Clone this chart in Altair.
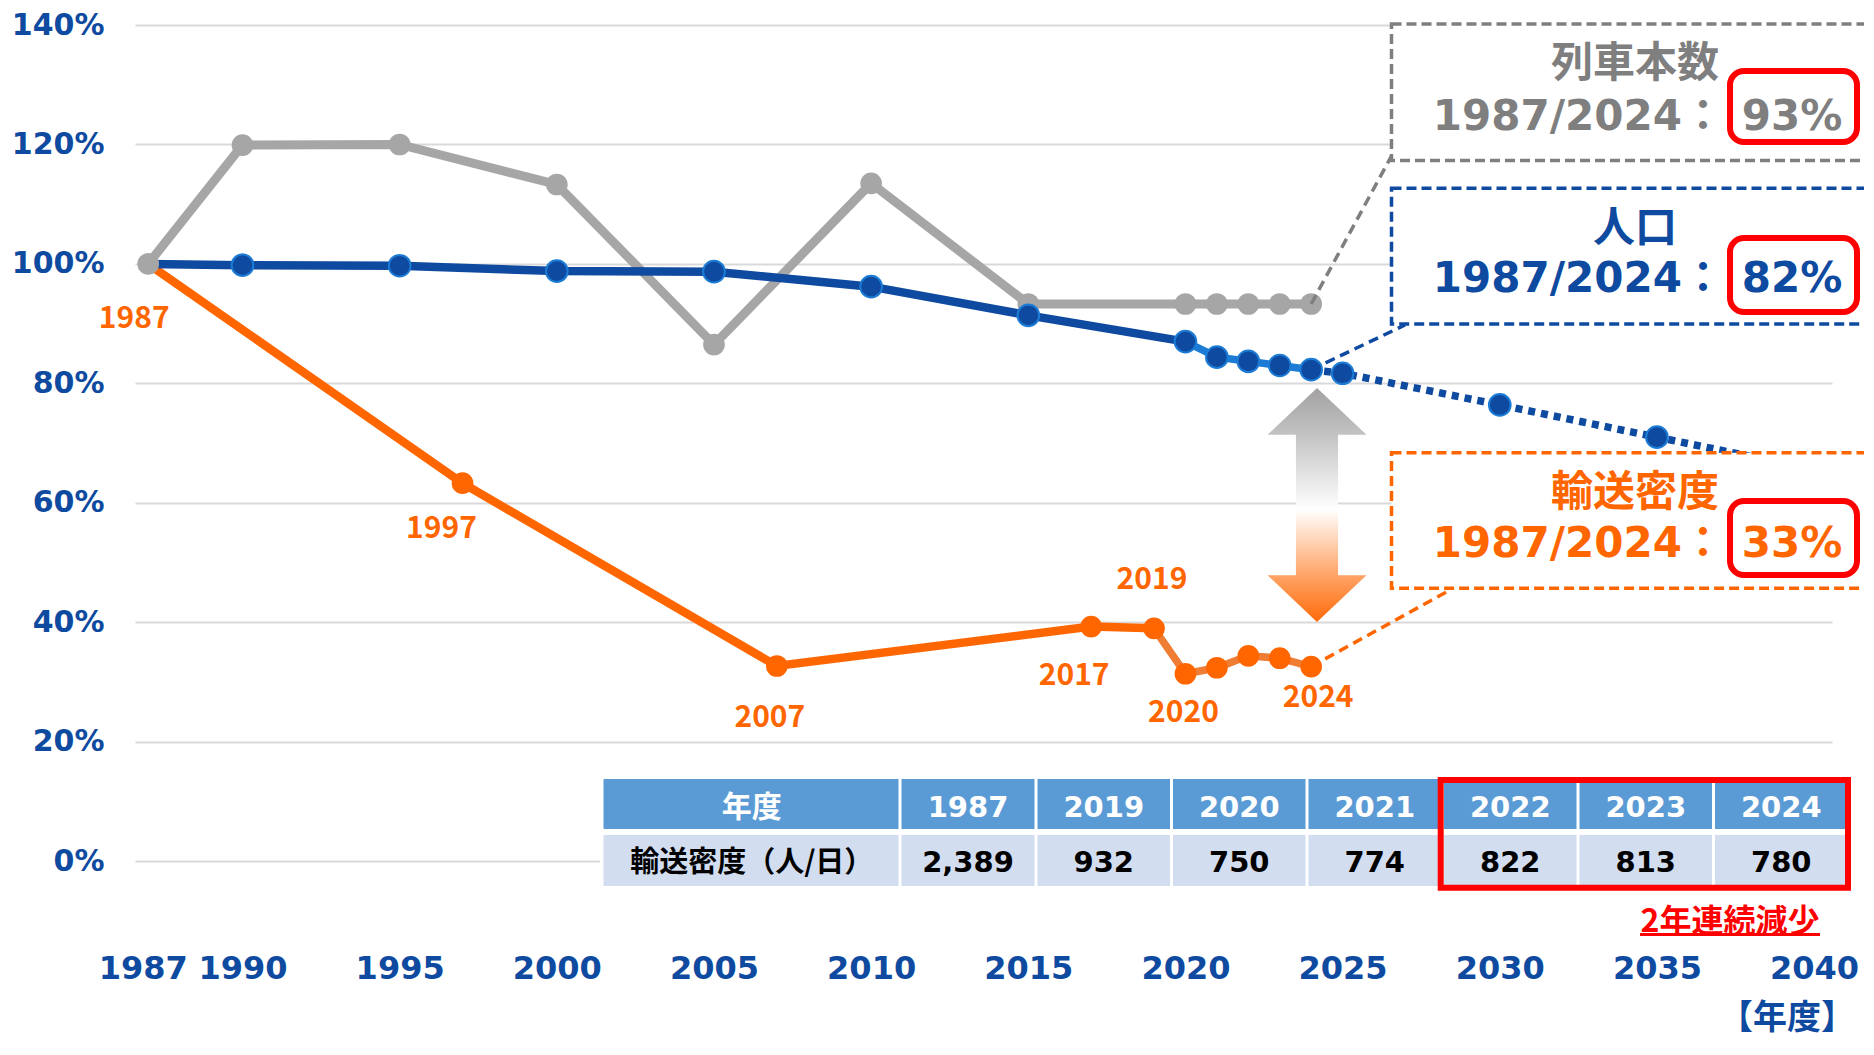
import altair as alt
import pandas as pd

# ---------------- data ----------------
train_years = [1987, 1990, 1995, 2000, 2005, 2010, 2015, 2020, 2021, 2022, 2023, 2024]
train_pct = [100.0, 119.9, 120.0, 113.3, 86.5, 113.5, 93.3, 93.3, 93.3, 93.3, 93.3, 93.3]

pop_years = [1987, 1990, 1995, 2000, 2005, 2010, 2015, 2020, 2021, 2022, 2023, 2024]
pop_pct = [100.0, 99.8, 99.7, 98.8, 98.7, 96.2, 91.4, 87.0, 84.4, 83.7, 83.0, 82.3]
proj_years = [2024, 2025, 2030, 2035, 2040]
proj_pct = [82.3, 81.7, 76.4, 71.0, 65.6]

dens_years = [1987, 1997, 2007, 2017, 2019, 2020, 2021, 2022, 2023, 2024]
dens_pct = [100.0, 63.3, 32.7, 39.3, 39.0, 31.4, 32.4, 34.4, 34.0, 32.6]
dens_label_years = [1987, 1997, 2007, 2017, 2019, 2020, 2024]

x_ticks = [1987, 1990, 1995, 2000, 2005, 2010, 2015, 2020, 2025, 2030, 2035, 2040]
y_ticks = [0, 20, 40, 60, 80, 100, 120, 140]

table_head = ["年度", "1987", "2019", "2020", "2021", "2022", "2023", "2024"]
table_vals = ["輸送密度（人/日）", "2,389", "932", "750", "774", "822", "813", "780"]

box_titles = ["列車本数", "人口", "輸送密度"]
box_ratio_label = "1987/2024："
box_ratios = ["93%", "82%", "33%"]
table_note = "2年連続減少"
x_unit = "【年度】"

# ---------------- layout ----------------
W, H = 1697, 908
PAD = {"left": 127, "top": 17, "right": 32, "bottom": 109}
X_DOMAIN = [1986.58, 2040.57]
Y_DOMAIN = [-12, 140]
PLOT_LEFT = 8 + PAD["left"]
PLOT_TOP = 8 + PAD["top"]


def X(px):
    return X_DOMAIN[0] + (px - PLOT_LEFT) * (X_DOMAIN[1] - X_DOMAIN[0]) / W


def Y(py):
    return Y_DOMAIN[1] - (py - PLOT_TOP) * (Y_DOMAIN[1] - Y_DOMAIN[0]) / H


BLUE = "#0E4AA0"
LIGHT_BLUE = "#1C7CD5"
ORANGE = "#FF6600"
LIGHT_ORANGE = "#EF7D33"
GRAY = "#A6A6A6"
DARK_GRAY = "#7F7F7F"
RED = "#FF0000"
LATIN = "DejaVu Sans, Noto Sans CJK JP, sans-serif"
CJK = "Noto Sans CJK JP, sans-serif"
PT = 470  # marker area

xs = alt.Scale(domain=X_DOMAIN, nice=False, zero=False)
ys = alt.Scale(domain=Y_DOMAIN, nice=False, zero=False)

x_axis = alt.Axis(values=x_ticks, format="d", labelFont="DejaVu Sans", labelFontSize=32,
                  labelFontWeight="bold", labelColor=BLUE, domain=False, ticks=False,
                  tickSize=0, grid=False, labelPadding=20, labelFlush=15,
                  labelFlushOffset=50, labelOverlap=False, title=None)
y_axis = alt.Axis(values=y_ticks, labelExpr="datum.value + '%'", labelFont="DejaVu Sans",
                  labelFontSize=30, labelFontWeight="bold", labelColor=BLUE, domain=False,
                  ticks=False, tickSize=0, grid=True, gridColor="#D9D9D9", gridWidth=2,
                  labelPadding=31, title=None)


def XQ(f="x"):
    return alt.X(f"{f}:Q", scale=xs, axis=x_axis)


def YQ(f="y"):
    return alt.Y(f"{f}:Q", scale=ys, axis=y_axis)


train_df = pd.DataFrame({"x": train_years, "y": train_pct})
pop_df = pd.DataFrame({"x": pop_years, "y": pop_pct})
proj_df = pd.DataFrame({"x": proj_years, "y": proj_pct})
dens_df = pd.DataFrame({"x": dens_years, "y": dens_pct})

layers = []

# gray (train count)
layers.append(alt.Chart(train_df).mark_line(color=GRAY, strokeWidth=9).encode(x=XQ(), y=YQ()))
layers.append(alt.Chart(train_df[train_df.x > 1987]).mark_circle(
    color=GRAY, size=PT, opacity=1).encode(x=XQ(), y=YQ()))

# orange (transport density)
layers.append(alt.Chart(dens_df[dens_df.x <= 2019]).mark_line(
    color=ORANGE, strokeWidth=8.5).encode(x=XQ(), y=YQ()))
layers.append(alt.Chart(dens_df[dens_df.x >= 2019]).mark_line(
    color=LIGHT_ORANGE, strokeWidth=7.5).encode(x=XQ(), y=YQ()))
layers.append(alt.Chart(dens_df[dens_df.x > 1987]).mark_circle(
    color=ORANGE, size=PT, opacity=1).encode(x=XQ(), y=YQ()))

# blue (population)
layers.append(alt.Chart(proj_df).mark_line(
    color=BLUE, strokeWidth=7.5, strokeDash=[7, 6]).encode(x=XQ(), y=YQ()))
layers.append(alt.Chart(pop_df[pop_df.x <= 2020]).mark_line(
    color=BLUE, strokeWidth=8.5).encode(x=XQ(), y=YQ()))
layers.append(alt.Chart(pop_df[pop_df.x >= 2020]).mark_line(
    color=LIGHT_BLUE, strokeWidth=7.5).encode(x=XQ(), y=YQ()))
blue_pts = pd.concat([pop_df[pop_df.x > 1987], proj_df[(proj_df.x > 2024) & (proj_df.x < 2040)]])
layers.append(alt.Chart(blue_pts).mark_circle(
    color=BLUE, size=PT, opacity=1, stroke=LIGHT_BLUE, strokeWidth=2).encode(x=XQ(), y=YQ()))

# gray start point on top
layers.append(alt.Chart(train_df[train_df.x == 1987]).mark_circle(
    color=GRAY, size=PT, opacity=1).encode(x=XQ(), y=YQ()))

# orange year labels (offsets in px from their points)
label_offsets = {1987: (-14, 55), 1997: (-21, 46), 2007: (-7, 52), 2017: (-17, 49),
                 2019: (-2, -48), 2020: (-2, 39), 2024: (7, 31)}
for yr in dens_label_years:
    dx, dy = label_offsets[yr]
    d = dens_df[dens_df.x == yr].assign(t=str(yr))
    layers.append(alt.Chart(d).mark_text(
        font=CJK, fontSize=30, fontWeight="bold", color=ORANGE, dx=dx, dy=dy,
        align="center", baseline="middle").encode(x=XQ(), y=YQ(), text="t:N"))

# double arrow with gradient
ARROW = ("M0,-1L0.423,-0.6L0.18,-0.6L0.18,0.6L0.423,0.6L0,1L-0.423,0.6L-0.18,0.6"
         "L-0.18,-0.6L-0.423,-0.6Z")
grad = alt.LinearGradient(gradient="linear", x1=0, x2=0, y1=0, y2=1, stops=[
    alt.GradientStop(offset=0, color="#A3A1A1"),
    alt.GradientStop(offset=0.2, color="#C3C3C3"),
    alt.GradientStop(offset=0.52, color="#FFFFFF"),
    alt.GradientStop(offset=0.8, color="#FFA466"),
    alt.GradientStop(offset=1, color="#FF6A0A")])
arrow_df = pd.DataFrame({"x": [X(1317)], "y": [Y(505)]})
layers.append(alt.Chart(arrow_df).mark_point(
    shape=ARROW, size=234 * 234, filled=True, fill=grad, strokeWidth=0, opacity=1
).encode(x=XQ(), y=YQ()))

# connectors from the 2024 points to the boxes
conns = [
    (train_pct[-1], 1392, 155, DARK_GRAY),
    (pop_pct[-1], 1405, 325, BLUE),
    (dens_pct[-1], 1450, 590, ORANGE),
]
for v, ex, ey, col in conns:
    d = pd.DataFrame({"x": [2024], "y": [v], "x2": [X(ex)], "y2": [Y(ey)]})
    layers.append(alt.Chart(d).mark_rule(color=col, strokeWidth=3.5, strokeDash=[10, 6]).encode(
        x=XQ(), y=YQ(), x2="x2:Q", y2="y2:Q"))

# annotation boxes
box_rows = [  # (top px, bottom px, colour, title centre px, ratio centre px, red box px)
    (24, 160.5, DARK_GRAY, 60.8, 114.2, (71, 142)),
    (188.3, 324, BLUE, 225.8, 276.7, (238, 312)),
    (452.7, 588.3, ORANGE, 489.2, 541.7, (501, 575)),
]
for i, (top, bot, col, tc, rc, (rt, rbm)) in enumerate(box_rows):
    d = pd.DataFrame({"x": [X(1391.5)], "x2": [X(1910)], "y": [Y(top)], "y2": [Y(bot)]})
    layers.append(alt.Chart(d).mark_rect(fill="white", stroke=col, strokeWidth=3.5,
                                         strokeDash=[10, 5]).encode(
        x=XQ(), y=YQ(), x2="x2:Q", y2="y2:Q"))
    t = pd.DataFrame({"x": [X(1635)], "y": [Y(tc + 0.08 * 42)], "t": [box_titles[i]]})
    layers.append(alt.Chart(t).mark_text(font=CJK, fontSize=42, fontWeight="bold", color=col,
                                         align="center", baseline="middle").encode(
        x=XQ(), y=YQ(), text="t:N"))
    t2 = pd.DataFrame({"x": [X(1724)], "y": [Y(rc + 0.0645 * 42)], "t": [box_ratio_label]})
    layers.append(alt.Chart(t2).mark_text(font=LATIN, fontSize=42, fontWeight="bold", color=col,
                                          align="right", baseline="middle").encode(
        x=XQ(), y=YQ(), text="t:N"))
    t3 = pd.DataFrame({"x": [X(1792)], "y": [Y(rc + 0.0645 * 42)], "t": [box_ratios[i]]})
    layers.append(alt.Chart(t3).mark_text(font=LATIN, fontSize=42, fontWeight="bold", color=col,
                                          align="center", baseline="middle").encode(
        x=XQ(), y=YQ(), text="t:N"))
    r = pd.DataFrame({"x": [X(1730)], "x2": [X(1857)], "y": [Y(rt)], "y2": [Y(rbm)]})
    layers.append(alt.Chart(r).mark_rect(fillOpacity=0, stroke=RED, strokeWidth=6,
                                         cornerRadius=14).encode(
        x=XQ(), y=YQ(), x2="x2:Q", y2="y2:Q"))

# ---------------- table ----------------
col_edges = [603.5, 900, 1036, 1171.5, 1307, 1442.5, 1578, 1713.5, 1849]
head_rows = (779, 829)
val_rows = (835, 886)
bg = pd.DataFrame({"x": [X(600)], "x2": [X(1852)], "y": [Y(776)], "y2": [Y(889)]})
layers.append(alt.Chart(bg).mark_rect(fill="white").encode(x=XQ(), y=YQ(), x2="x2:Q", y2="y2:Q"))
cells = []
for i in range(8):
    l = col_edges[i] + (0 if i == 0 else 1.5)
    r = col_edges[i + 1] - 1.5
    cells.append({"x": X(l), "x2": X(r), "y": Y(head_rows[0]), "y2": Y(head_rows[1]), "c": "#5B9BD5"})
    cells.append({"x": X(l), "x2": X(r), "y": Y(val_rows[0]), "y2": Y(val_rows[1]), "c": "#D2DDF0"})
layers.append(alt.Chart(pd.DataFrame(cells)).mark_rect().encode(
    x=XQ(), y=YQ(), x2="x2:Q", y2="y2:Q", fill=alt.Fill("c:N", scale=None)))

centers = [(col_edges[i] + col_edges[i + 1]) / 2 for i in range(8)]
head_df = pd.DataFrame({"x": [X(c) for c in centers[1:]], "y": Y(806 + 0.0645 * 29),
                        "t": table_head[1:]})
val_df = pd.DataFrame({"x": [X(c) for c in centers[1:]], "y": Y(860.8 + 0.0645 * 29),
                       "t": table_vals[1:]})
layers.append(alt.Chart(head_df).mark_text(font="DejaVu Sans", fontSize=29, fontWeight="bold",
                                           color="white").encode(x=XQ(), y=YQ(), text="t:N"))
layers.append(alt.Chart(val_df).mark_text(font="DejaVu Sans", fontSize=29, fontWeight="bold",
                                          color="black").encode(x=XQ(), y=YQ(), text="t:N"))
h0 = pd.DataFrame({"x": [X(centers[0])], "y": [Y(806 + 0.08 * 30)], "t": [table_head[0]]})
v0 = pd.DataFrame({"x": [X(centers[0])], "y": [Y(860.5 + 0.08 * 29)], "t": [table_vals[0]]})
layers.append(alt.Chart(h0).mark_text(font=CJK, fontSize=30, fontWeight="bold",
                                      color="white").encode(x=XQ(), y=YQ(), text="t:N"))
layers.append(alt.Chart(v0).mark_text(font=CJK, fontSize=29, fontWeight="bold",
                                      color="black").encode(x=XQ(), y=YQ(), text="t:N"))
rbd = pd.DataFrame({"x": [X(1440.7)], "x2": [X(1848)], "y": [Y(780)], "y2": [Y(887.7)]})
layers.append(alt.Chart(rbd).mark_rect(fillOpacity=0, stroke=RED, strokeWidth=6).encode(
    x=XQ(), y=YQ(), x2="x2:Q", y2="y2:Q"))

note = pd.DataFrame({"x": [X(1730)], "y": [Y(919 + 0.08 * 32)], "t": [table_note]})
layers.append(alt.Chart(note).mark_text(font=CJK, fontSize=32, fontWeight="bold", color=RED)
              .encode(x=XQ(), y=YQ(), text="t:N"))
ul = pd.DataFrame({"x": [X(1640)], "x2": [X(1820)], "y": [Y(934.5)]})
layers.append(alt.Chart(ul).mark_rule(color=RED, strokeWidth=3).encode(x=XQ(), x2="x2:Q", y=YQ()))

unit = pd.DataFrame({"x": [X(1787)], "y": [Y(1016 + 0.08 * 34)], "t": [x_unit]})
layers.append(alt.Chart(unit).mark_text(font=CJK, fontSize=34, fontWeight="bold", color=BLUE)
              .encode(x=XQ(), y=YQ(), text="t:N"))

chart = alt.layer(*layers).properties(
    width=W, height=H, padding=PAD, autosize=alt.AutoSizeParams(type="none"),
    background="white",
).configure_view(stroke="transparent")

chart.save("out.html", embed_options={"renderer": "svg", "actions": False})
